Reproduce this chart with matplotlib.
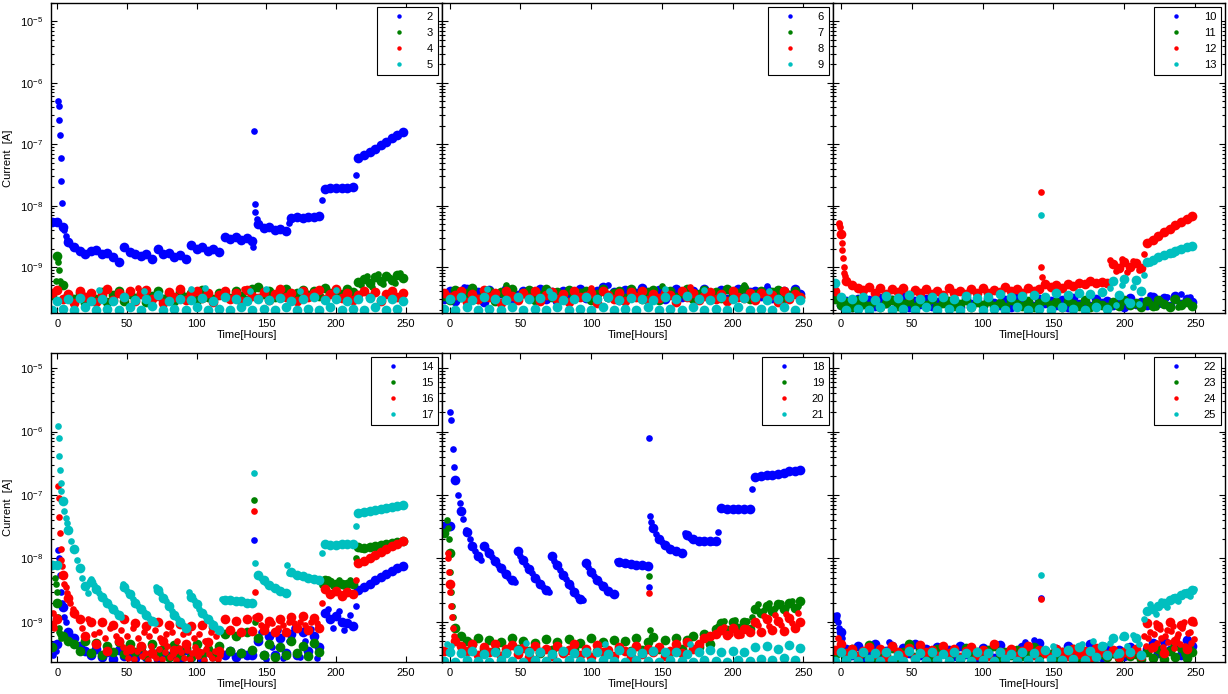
import numpy as np
import matplotlib
matplotlib.use("Agg")
import matplotlib.pyplot as plt
from matplotlib.ticker import NullFormatter, FixedLocator, LogFormatterSciNotation
from matplotlib.lines import Line2D

plt.rcParams['font.family'] = ['Liberation Sans', 'DejaVu Sans']
plt.rcParams['mathtext.fontset'] = 'custom'
plt.rcParams['mathtext.rm'] = 'Liberation Sans'
plt.rcParams['mathtext.default'] = 'regular'

# ---------------- data (current values in units of 1e-10 A) ----------------
UNIT = 1e-10
HOURS = [-4, 0, 4, 8, 12, 16, 20, 24, 28, 32, 36, 40, 44, 48, 52, 56,
         60, 64, 68, 72, 76, 80, 84, 88, 92, 96, 100, 104, 108, 112, 116, 120,
         124, 128, 132, 136, 140, 144, 148, 152, 156, 160, 164, 168, 172, 176, 180, 184,
         188, 192, 196, 200, 204, 208, 212, 216, 220, 224, 228, 232, 236, 240, 244, 248]

# ---- panel 1 ----
ch2 = [55, 55, 45, 26, 21, 18, 16, 18,
       19, 16, 17, 14.5, 12, 21, 17.5, 16.5,
       15, 16, 13.5, 20, 16.5, 17, 14.5, 15.5,
       13.5, 23, 20, 21, 18.5, 19.5, 17.5, 31,
       29, 31, 28, 30, 27, 50, 43, 44,
       40, 41, 38, 63, 65, 63, 66, 65,
       67, 190, 196, 192, 197, 194, 200, 590,
       680, 760, 850, 980, 1100, 1250, 1420, 1580]
ch2_extra = [(-2, 56), (0.5, 5000), (1, 4200), (1.5, 2500), (2, 1400), (2.5, 600), (3, 250),
             (3.5, 110), (5, 40), (6, 32), (7, 28), (10, 23), (14, 20), (140.5, 21), (141, 1650),
             (141.5, 105), (142, 80), (143, 60), (166, 52), (190, 125), (214, 320)]
ch3 = [3.5, 15, 5, 3.5, 3.0, 3.8, 2.6, 3.4,
       3.0, 3.9, 2.7, 3.5, 4.1, 2.8, 3.6, 3.1,
       3.8, 2.7, 3.4, 4.0, 3.0, 3.6, 2.8, 3.9,
       3.2, 3.7, 2.9, 4.2, 3.3, 3.0, 3.8, 3.5,
       3.1, 4.0, 3.4, 2.9, 4.3, 4.8, 3.6, 4.1,
       3.3, 3.9, 4.4, 3.0, 3.7, 4.2, 3.5, 4.0,
       3.4, 4.5, 3.8, 4.1, 3.6, 4.4, 3.9, 5.8,
       6.3, 5.5, 6.9, 5.9, 7.2, 6.1, 7.5, 6.6]
ch3_extra = [(-1, 6), (0.5, 12), (1, 9), (2, 6), (141, 4.6), (218, 5.0), (222, 7.0), (226, 4.8),
             (230, 7.6), (234, 5.2), (238, 6.8), (242, 5.4), (246, 7.9)]
ch4 = [3.8, 4.2, 3.0, 3.6, 2.6, 4.0, 3.2, 3.8,
       2.7, 3.5, 4.3, 2.9, 3.7, 3.2, 4.1, 2.8,
       3.6, 4.2, 3.0, 3.4, 2.6, 3.9, 3.3, 4.4,
       2.9, 3.6, 4.0, 3.1, 3.8, 2.7, 3.5, 4.1,
       3.0, 3.7, 2.8, 4.2, 3.4, 3.1, 3.9, 2.9,
       3.6, 4.3, 3.2, 3.8, 2.8, 4.0, 3.3, 3.7,
       4.2, 3.0, 3.6, 4.4, 3.1, 3.8, 2.9, 3.5,
       4.0, 3.2, 3.9, 2.8, 3.6, 4.1, 3.3, 3.7]
ch4_extra = [(58, 4.5), (134, 4.4), (200, 4.3)]
ch5 = [2.0, 2.8, 2.1, 3.0, 2.0, 3.1, 2.2, 2.8,
       2.0, 3.0, 2.1, 2.8, 2.0, 3.2, 2.2, 2.9,
       2.0, 3.0, 2.3, 3.5, 2.0, 2.8, 2.1, 3.0,
       2.0, 2.9, 2.2, 3.1, 2.0, 2.8, 2.1, 3.3,
       2.0, 3.0, 2.2, 2.8, 2.0, 3.0, 2.1, 2.9,
       2.0, 3.1, 2.2, 2.8, 2.0, 3.0, 2.1, 3.2,
       2.0, 2.9, 2.2, 3.0, 2.0, 2.8, 2.1, 3.0,
       2.0, 3.1, 2.2, 2.9, 2.0, 3.0, 2.1, 2.8]
ch5_extra = [(30, 4.2), (62, 4.0), (96, 4.3), (106, 4.5), (138, 4.1), (150, 4.4), (174, 4.0), (200, 4.2)]

# ---- panel 2 ----
ch6 = [3.0, 4.0, 2.8, 3.6, 4.3, 3.1, 3.9, 2.7,
       4.2, 3.3, 3.8, 4.4, 2.9, 3.5, 4.1, 3.2,
       3.7, 4.3, 3.0, 3.9, 2.8, 4.1, 3.4, 3.8,
       4.4, 3.1, 3.6, 4.0, 4.8, 3.3, 3.9, 2.9,
       4.2, 3.5, 3.8, 4.5, 3.2, 3.6, 4.2, 3.0,
       3.9, 4.3, 3.3, 3.7, 4.1, 3.1, 4.4, 3.5,
       3.8, 4.2, 3.0, 3.6, 4.3, 3.2, 3.9, 4.1,
       3.4, 4.2, 3.1, 3.8, 4.0, 3.3, 4.3, 3.6]
ch6_extra = [(10, 4.8), (112, 5.0), (224, 4.9)]
ch7 = [3.4, 2.9, 4.2, 3.2, 3.8, 4.5, 3.0, 3.6,
       4.1, 2.8, 3.9, 3.3, 4.3, 3.1, 3.7, 4.2,
       2.9, 3.5, 4.4, 3.2, 3.9, 3.0, 4.2, 3.4,
       3.8, 4.1, 2.9, 3.6, 4.3, 3.2, 3.7, 4.0,
       3.1, 4.3, 3.4, 3.0, 3.9, 4.2, 2.9, 3.5,
       4.1, 3.3, 3.8, 4.4, 3.0, 3.6, 4.2, 3.2,
       3.9, 3.1, 4.3, 3.4, 3.7, 4.5, 3.0, 3.6,
       4.1, 3.3, 3.9, 4.2, 3.1, 3.5, 4.0, 3.2]
ch7_extra = [(40, 5.0), (150, 4.9), (208, 5.1)]
ch8 = [3.8, 3.2, 3.5, 4.1, 2.7, 3.6, 3.0, 4.2,
       3.3, 3.7, 2.6, 4.0, 3.4, 2.9, 3.8, 3.1,
       4.1, 2.8, 3.5, 3.9, 3.0, 3.6, 2.7, 4.1,
       3.2, 3.4, 3.8, 2.6, 4.0, 3.5, 3.0, 3.7,
       2.8, 3.9, 3.3, 4.1, 2.9, 3.6, 3.1, 3.8,
       3.5, 2.7, 4.1, 3.2, 3.7, 2.9, 3.4, 3.9,
       3.0, 3.6, 2.8, 4.0, 3.3, 3.1, 3.7, 2.9,
       3.8, 3.2, 3.5, 2.7, 4.1, 3.0, 3.6, 3.3]
ch8_extra = [(100, 4.6), (170, 4.7)]
ch9 = [2.1, 3.0, 2.0, 3.2, 2.2, 2.9, 2.0, 3.3,
       2.1, 3.0, 2.0, 2.9, 2.2, 3.2, 2.0, 3.0,
       2.1, 3.1, 2.0, 3.4, 2.2, 2.9, 2.0, 3.0,
       2.1, 3.2, 2.0, 3.0, 2.2, 3.3, 2.0, 2.9,
       2.1, 3.1, 2.0, 3.0, 2.2, 2.9, 2.0, 3.2,
       2.1, 3.0, 2.0, 3.4, 2.2, 3.0, 2.0, 2.9,
       2.1, 3.2, 2.0, 3.0, 2.2, 3.1, 2.0, 3.3,
       2.1, 2.9, 2.0, 3.0, 2.2, 3.2, 2.0, 2.9]
ch9_extra = [(26, 4.3), (70, 4.0), (152, 4.4), (180, 4.2), (226, 4.1)]

# ---- panel 3 ----
ch10 = [3.6, 2.4, 2.8, 2.2, 3.0, 2.5, 2.9, 2.3,
        3.1, 2.6, 2.9, 2.4, 3.3, 2.2, 2.8, 2.5,
        3.0, 2.3, 2.7, 3.2, 2.4, 2.9, 2.2, 3.1,
        2.5, 2.8, 2.3, 3.0, 2.6, 2.4, 2.9, 2.2,
        3.2, 2.5, 2.7, 2.3, 3.0, 2.6, 2.8, 2.4,
        2.9, 2.2, 3.1, 2.5, 2.7, 2.3, 3.0, 2.6,
        2.8, 2.4, 2.9, 2.2, 3.1, 2.5, 2.7, 2.4,
        3.3, 2.6, 3.1, 2.3, 3.4, 2.5, 3.0, 2.7]
ch10_extra = [(-2, 3.4), (218, 3.5), (230, 3.2), (240, 3.6), (246, 3.3)]
ch11 = [3.0, 2.4, 2.7, 2.2, 2.9, 2.5, 2.3, 2.8,
        2.2, 2.6, 2.9, 2.3, 2.5, 2.8, 2.2, 2.7,
        2.4, 3.0, 2.2, 2.6, 2.8, 2.3, 2.5, 2.9,
        2.2, 2.7, 2.4, 2.8, 2.3, 2.6, 2.2, 2.9,
        2.5, 2.3, 2.8, 2.2, 2.6, 2.9, 2.4, 2.7,
        2.2, 2.8, 2.5, 2.3, 2.9, 2.2, 2.6, 2.4,
        2.2, 2.7, 2.3, 2.9, 2.4, 2.6, 2.2, 2.8,
        2.3, 2.9, 2.5, 2.2, 3.0, 2.4, 2.7, 2.3]
ch11_extra = [(190, 2.2), (218, 2.6), (222, 2.2), (226, 2.8), (230, 2.4), (234, 3.0),
              (238, 2.2), (242, 2.7), (246, 2.5)]
ch12 = [4.0, 35, 6.0, 5.0, 4.6, 4.2, 4.8, 3.8,
        4.5, 3.6, 4.3, 3.9, 4.6, 3.5, 4.2, 3.8,
        4.4, 3.6, 4.0, 3.5, 4.5, 3.7, 4.1, 3.6,
        4.4, 3.8, 4.6, 3.7, 4.2, 3.9, 4.8, 4.0,
        4.4, 3.8, 4.5, 4.0, 4.3, 5.2, 4.8, 5.0,
        4.6, 5.3, 4.9, 5.5, 5.2, 6.0, 5.4, 5.8,
        5.5, 11, 9.5, 12, 10, 11.5, 9.5, 25,
        28, 32, 37, 42, 48, 55, 61, 67]
ch12_extra = [(-1.5, 53), (-1, 50), (-0.5, 45), (0.5, 25), (1, 19), (1.5, 14), (2, 10), (2.5, 8),
              (3, 7), (141, 166), (141.5, 10), (142, 6.9), (190, 13), (194, 8.5), (198, 13.5),
              (202, 8.3), (206, 12.5), (210, 9), (214, 16), (218, 27), (222, 30), (226, 34.5),
              (230, 39.5), (234, 45), (238, 51), (242, 58), (246, 64)]
ch13 = [5.5, 3.2, 2.0, 3.0, 2.1, 3.3, 2.0, 2.9,
        2.2, 3.4, 2.0, 3.1, 2.1, 3.5, 2.0, 3.0,
        2.2, 3.3, 2.0, 3.2, 2.1, 3.0, 2.0, 3.4,
        2.2, 3.1, 2.0, 3.3, 2.1, 3.6, 2.0, 3.2,
        2.2, 3.4, 2.0, 3.5, 2.1, 3.3, 2.0, 3.7,
        2.2, 3.5, 2.1, 3.8, 2.0, 3.6, 2.2, 3.9,
        2.1, 6.0, 3.5, 6.4, 2.6, 6.2, 4.0, 12,
        13, 14.5, 15.5, 17, 18.5, 20, 21, 22]
ch13_extra = [(141, 70), (190, 4.5), (194, 2.4), (198, 5.0), (202, 2.8), (206, 4.8), (210, 2.5),
              (214, 7.5), (218, 11.5), (222, 14), (226, 15), (230, 16), (234, 16.5), (238, 19.5),
              (242, 20.5), (246, 21.5)]

# ---- panel 4 ----
ch14 = [4.0, 4.5, 17, 7, 5.5, 4.2, 3.5, 3.0,
        3.8, 2.8, 3.4, 2.6, 3.6, 2.9, 3.3, 2.7,
        3.5, 2.8, 3.2, 2.6, 3.4, 2.9, 3.1, 2.7,
        3.6, 2.8, 3.3, 2.6, 3.5, 2.9, 3.2, 3.0,
        3.5, 2.8, 3.2, 3.0, 3.0, 5.0, 3.0, 6.0,
        3.0, 5.5, 3.2, 6.5, 3.0, 7.0, 3.5, 6.0,
        4.0, 14, 11, 12.5, 10, 9.5, 8.5, 32,
        36, 40, 45, 51, 57, 64, 70, 75]
ch14_extra = [(-3, 3.0), (-2, 4.5), (-1, 3.5), (0.7, 137), (1.2, 100), (1.8, 55), (2.5, 30),
              (3.2, 20), (5, 12), (6, 10), (8.5, 6.5), (10, 6), (141, 197), (146, 7), (150, 2.6),
              (154, 4), (158, 7.5), (162, 2.7), (166, 5), (170, 8), (174, 2.8), (178, 5),
              (182, 7.7), (186, 2.7), (194, 16), (198, 8), (202, 15), (206, 7.5), (210, 13),
              (214, 17.5)]
ch15 = [4.0, 20, 6, 5, 4.5, 3.5, 5, 3.2,
        4.6, 3.0, 4.2, 3.4, 4.8, 3.1, 4.4, 3.3,
        4.0, 2.9, 4.5, 3.2, 3.8, 2.8, 4.3, 3.0,
        3.9, 2.8, 4.4, 3.1, 3.7, 2.9, 4.2, 6.5,
        3.5, 6.0, 3.2, 6.8, 3.6, 5.5, 3.0, 4.5,
        2.8, 4.0, 3.0, 5.0, 3.2, 4.2, 2.9, 4.6,
        3.3, 45, 42, 40, 40, 39, 40, 150,
        148, 150, 155, 160, 166, 172, 180, 188]
ch15_extra = [(-1.5, 50), (-1, 40), (-0.5, 30), (0.5, 12), (1, 8), (1.5, 7), (2, 6.5), (3, 5.5),
              (141, 820), (141.5, 10), (190, 38), (194, 47), (198, 37), (202, 46), (206, 37),
              (210, 45), (214, 100), (218, 140), (226, 158), (234, 150), (242, 176)]
ch16 = [9, 11, 55, 24, 14, 11, 6, 10,
        4.5, 10, 3.5, 9, 5, 11, 3.8, 9.5,
        4.2, 8.5, 3.2, 10, 5, 8.8, 3.6, 9.2,
        4.4, 8.6, 3.3, 9, 4.8, 8.2, 3.5, 11,
        7.5, 10.5, 7, 11, 7.2, 12, 7.5, 10.5,
        6.8, 11, 7, 12, 8, 12.5, 7.5, 11.5,
        8, 33, 27, 31, 26, 30, 27, 85,
        92, 100, 112, 125, 140, 155, 170, 185]
ch16_extra = [(-3, 14), (-2, 8), (-1, 12), (0.6, 1370), (1, 900), (1.5, 450), (2, 250), (2.5, 140),
              (3, 95), (3.5, 75), (5, 40), (6, 36), (7, 28), (9, 20), (11, 16), (13, 13), (18, 8),
              (22, 11), (26, 6.5), (30, 7), (34, 5.5), (38, 8), (42, 6), (46, 7.5), (50, 6),
              (54, 8), (58, 5.5), (62, 7), (66, 6), (70, 7.5), (74, 5.5), (78, 6.5), (82, 7),
              (86, 5), (90, 6.5), (94, 7), (98, 5.5), (102, 6.5), (106, 5), (110, 6.8), (114, 6),
              (141, 550), (141.5, 30), (142, 12), (146, 9), (150, 8.5), (154, 9.5), (158, 8),
              (162, 9), (166, 10), (170, 9.5), (174, 10), (178, 9), (182, 10), (186, 9.5),
              (190, 20), (194, 30), (198, 28.5), (202, 29), (206, 28), (210, 28.5), (214, 45),
              (218, 88), (226, 106), (234, 132), (242, 162),
              (47, 4.0), (49, 3.3), (51, 2.7), (53, 3.8), (55, 2.6), (57, 3.5), (59, 4.3),
              (61, 2.9), (63, 3.2), (65, 2.5), (67, 4.1), (69, 3.0), (71, 2.7), (73, 3.7),
              (75, 2.6), (77, 3.3), (79, 4.2), (81, 2.8), (83, 3.1), (85, 2.5), (87, 3.9),
              (89, 3.4), (91, 2.7), (93, 3.6), (95, 2.6), (97, 3.2), (99, 4.0), (101, 2.9),
              (103, 3.3), (105, 2.5), (107, 3.8), (109, 3.1), (111, 2.7), (113, 3.5), (115, 2.6),
              (117, 3.0)]
ch17 = [79, 78, 800, 280, 140, 70, 37, 43,
        33, 25, 20, 16, 13, 36, 27, 20,
        16, 13, 10.5, 32, 24, 18, 13, 10,
        8, 25, 19, 14, 11, 9, 7.5, 22,
        22, 21, 21, 20, 20, 55, 45, 38,
        34, 31, 28, 62, 55, 52, 50, 48,
        46, 170, 165, 165, 168, 168, 170, 520,
        540, 560, 580, 600, 620, 650, 670, 690]
ch17_extra = [(-2, 80), (0.5, 12300), (1, 8000), (1.5, 4100), (2, 2500), (2.5, 1550), (3, 1150),
              (5, 550), (6, 440), (7, 360), (10, 190), (14, 95), (18, 50), (22, 28), (24.5, 48),
              (26, 38), (30, 29), (34, 22), (38, 18), (42, 14.5), (46, 12), (47.5, 40), (50, 31),
              (54, 23), (58, 18), (62, 14.5), (66, 11.5), (70, 9.7), (71, 36), (74, 28), (78, 21),
              (82, 15), (86, 11.5), (90, 9), (94.5, 30), (98, 22), (102, 16), (106, 12.5),
              (110, 10), (114, 8), (118, 23), (122, 22.5), (126, 21.5), (130, 21), (134, 20.5),
              (138, 20), (141, 2200), (141.5, 85), (146, 50), (150, 41), (154, 36), (158, 32.5),
              (162, 29.5), (165, 79), (166, 58), (170, 57), (174, 53), (178, 51), (182, 49),
              (186, 47), (190, 120), (194, 168), (198, 164), (202, 167), (206, 166), (210, 170),
              (214, 330), (218, 530), (222, 550), (226, 570), (230, 590), (234, 610), (238, 635),
              (242, 660), (246, 680)]

# ---- panel 5 ----
ch18 = [320, 330, 1700, 560, 260, 155, 110, 155,
        120, 90, 70, 56, 46, 130, 95, 68,
        50, 40, 32, 110, 78, 55, 40, 30,
        23, 85, 62, 46, 37, 31, 27, 88,
        85, 82, 80, 78, 75, 300, 200, 160,
        140, 130, 122, 230, 200, 190, 188, 185,
        185, 620, 600, 600, 605, 600, 610, 1950,
        2000, 2050, 2100, 2180, 2250, 2350, 2420, 2500]
ch18_extra = [(-2, 325), (0.5, 20000), (1, 15000), (2, 5300), (3, 2800), (5.5, 1000), (7, 750),
              (9, 420), (11.5, 280), (14, 200), (18, 130), (22, 95), (26, 135), (30, 104),
              (34, 80), (38, 62), (42, 50), (46, 43), (50, 110), (54, 80), (58, 58), (62, 45),
              (66, 36), (70, 30), (74, 92), (78, 65), (82, 47), (86, 35), (90, 26), (94, 22),
              (98, 72), (102, 53), (106, 41), (110, 34), (114, 29), (118, 90), (122, 86),
              (126, 83), (130, 81), (134, 79), (138, 76), (140.7, 36), (141, 7900), (141.3, 460),
              (142, 380), (146, 240), (150, 180), (154, 150), (158, 135), (162, 125), (166, 250),
              (170, 210), (174, 195), (178, 189), (182, 186), (186, 184), (190, 260), (194, 610),
              (198, 600), (202, 602), (206, 603), (210, 605), (214, 1260)]
ch19 = [250, 120, 8, 6, 5, 4.4, 5.5, 3.8,
        5.2, 3.6, 4.8, 3.4, 5.5, 3.8, 5.0, 3.5,
        4.6, 3.2, 5.3, 3.6, 4.9, 3.3, 5.4, 3.7,
        4.7, 3.4, 5.6, 3.5, 4.8, 3.2, 5.2, 3.8,
        5.0, 3.5, 5.5, 3.6, 4.9, 5.8, 3.7, 5.1,
        3.4, 5.6, 3.8, 5.2, 6.0, 4.0, 6.5, 4.5,
        7.8, 9.5, 7.5, 10, 8, 9.8, 7.8, 16,
        14, 18, 15, 19, 16, 20, 16.5, 21]
ch19_extra = [(-2, 400), (-1, 300), (-0.5, 200), (0.5, 60), (1, 30), (1.5, 18), (2, 12), (3, 8),
              (141, 52), (141.5, 7.5), (190, 8.5), (194, 10.5), (198, 7.2), (202, 10.8),
              (206, 7.4), (210, 10.2), (214, 12), (218, 19), (222, 15.5), (226, 19.5),
              (230, 16.5), (234, 20), (238, 17), (242, 21), (246, 17.5)]
ch20 = [3.5, 40, 5, 4.2, 3.5, 4.5, 3.0, 4.0,
        3.3, 4.4, 2.9, 3.8, 4.3, 3.1, 3.9, 2.8,
        4.2, 3.4, 3.7, 2.9, 4.1, 3.2, 3.6, 4.4,
        3.0, 3.8, 2.8, 4.3, 3.3, 3.6, 2.9, 4.0,
        3.5, 2.8, 4.2, 3.1, 3.7, 3.3, 4.0, 2.9,
        3.5, 4.5, 3.2, 4.8, 3.8, 4.4, 5.5, 6.0,
        6.5, 7.5, 6.2, 8, 6.5, 7.8, 6.8, 10,
        7, 11, 7.5, 10.5, 7.2, 11.5, 8, 10]
ch20_extra = [(-1.5, 120), (-1, 100), (-0.5, 60), (0.5, 30), (1, 18), (1.5, 12), (2, 8), (3, 6),
              (141, 29), (190, 6.8), (194, 8.2), (198, 6.5), (202, 7.5), (206, 6.2), (210, 8.0),
              (218, 9), (222, 12.5), (226, 8.5), (230, 13), (234, 9), (238, 13.5), (242, 9.5),
              (246, 14)]
ch21 = [2.4, 3.4, 2.3, 3.2, 2.5, 3.5, 2.4, 3.1,
        2.3, 3.4, 2.5, 3.2, 2.4, 3.6, 2.3, 3.3,
        2.5, 3.4, 2.4, 3.1, 2.3, 3.5, 2.5, 3.2,
        2.4, 3.4, 2.3, 3.3, 2.5, 3.1, 2.4, 3.6,
        2.3, 3.4, 2.5, 3.2, 2.4, 3.5, 2.3, 3.3,
        2.5, 3.4, 2.4, 3.1, 2.3, 3.4, 2.5, 3.6,
        2.4, 3.3, 2.3, 3.5, 2.5, 3.4, 2.4, 4.0,
        2.6, 4.2, 2.5, 3.8, 2.7, 4.3, 2.5, 3.9]
ch21_extra = [(-2, 4.5), (1, 4.2), (54, 4.6), (110, 4.4), (170, 4.5)]

# ---- panel 6 ----
ch22 = [12, 7, 3.8, 3.0, 4.2, 2.7, 3.6, 4.4,
        2.9, 3.5, 4.1, 2.8, 3.9, 3.2, 4.5, 3.0,
        3.7, 2.6, 4.0, 3.3, 3.6, 2.9, 4.2, 3.1,
        3.5, 2.8, 3.9, 3.4, 2.7, 4.3, 3.0, 3.6,
        3.2, 4.0, 2.8, 3.7, 4.6, 3.3, 2.9, 3.8,
        3.1, 4.1, 2.7, 3.6, 3.0, 4.4, 3.4, 2.8,
        3.9, 3.2, 3.6, 2.9, 4.0, 3.3, 3.0, 3.8,
        4.6, 3.2, 5.0, 3.6, 4.4, 3.0, 5.2, 4.1]
ch22_extra = [(-3, 13), (-2, 10), (-1, 8), (1, 5.5), (141, 24), (34, 4.8), (130, 4.9), (136, 5.1)]
ch23 = [3.0, 3.4, 2.6, 3.8, 2.9, 3.2, 4.3, 2.7,
        3.5, 3.0, 3.9, 2.6, 3.3, 4.5, 2.8, 3.6,
        3.1, 2.7, 3.7, 3.2, 2.9, 3.5, 2.6, 3.9,
        3.0, 3.4, 2.8, 3.6, 4.2, 2.7, 3.3, 3.0,
        3.6, 2.9, 3.2, 4.0, 2.8, 3.5, 3.1, 2.7,
        3.4, 3.0, 3.7, 2.8, 3.3, 2.6, 3.5, 3.1,
        2.8, 3.2, 2.7, 3.4, 2.9, 3.1, 2.6, 3.3,
        2.7, 3.8, 2.6, 3.5, 2.8, 3.9, 2.7, 3.4]
ch23_extra = [(218, 4.0), (226, 3.0), (234, 4.2), (242, 3.1), (246, 4.0)]
ch24 = [3.6, 4.4, 3.2, 3.8, 2.9, 3.5, 4.0, 3.1,
        3.7, 2.8, 4.2, 3.4, 3.0, 3.9, 2.7, 4.3,
        3.3, 3.6, 2.9, 4.1, 3.2, 3.7, 2.8, 3.5,
        4.0, 3.0, 3.6, 2.9, 4.4, 3.3, 3.1, 3.8,
        2.9, 3.5, 4.2, 3.0, 3.6, 3.2, 2.8, 3.7,
        3.4, 2.9, 3.8, 3.1, 3.5, 2.7, 3.9, 3.3,
        3.0, 3.6, 2.8, 3.4, 3.1, 3.7, 2.9, 9.5,
        4.0, 8.5, 3.2, 10, 5.0, 9.0, 3.8, 10.5]
ch24_extra = [(-2, 5.5), (141, 23), (214, 6), (218, 7), (222, 9.5), (226, 5.5), (230, 7.5),
              (234, 8.5), (238, 6.5), (242, 10), (246, 7), (249, 9.5),
              (215, 4.2), (217, 5.6), (219, 3.8), (221, 6.4), (223, 4.6), (225, 7.8), (227, 4.0),
              (229, 6.0), (231, 4.8), (233, 7.2), (235, 3.9), (237, 5.8), (239, 4.4), (241, 8.0),
              (243, 4.1), (245, 6.6), (247, 4.7), (249, 5.4)]
ch25 = [2.4, 3.3, 2.5, 3.1, 2.4, 3.4, 2.6, 3.2,
        2.4, 3.4, 2.5, 3.0, 2.4, 3.5, 2.6, 3.2,
        2.4, 3.3, 2.5, 3.1, 2.4, 3.4, 2.6, 3.2,
        2.4, 3.4, 2.5, 3.2, 2.4, 3.3, 2.6, 3.1,
        2.4, 3.4, 2.5, 3.2, 2.4, 3.6, 2.6, 3.3,
        2.5, 3.6, 2.6, 4.0, 2.5, 3.5, 2.8, 4.2,
        3.0, 5.5, 3.2, 6.0, 3.4, 5.6, 3.0, 15,
        16, 18, 20, 22, 24, 26.5, 29, 32]
ch25_extra = [(141, 54), (150, 4.2), (170, 4.5), (178, 5.0), (186, 4.3), (190, 4.6), (194, 3.0),
              (198, 5.8), (202, 4.2), (206, 6.2), (210, 4.4), (214, 11), (218, 19), (222, 13.5),
              (226, 21), (230, 17), (234, 25), (238, 21), (242, 30), (246, 26), (249, 33)]

PANEL_LABELS = [['2', '3', '4', '5'], ['6', '7', '8', '9'], ['10', '11', '12', '13'],
                ['14', '15', '16', '17'], ['18', '19', '20', '21'], ['22', '23', '24', '25']]
PANEL_VALUES = [[ch2, ch3, ch4, ch5], [ch6, ch7, ch8, ch9], [ch10, ch11, ch12, ch13],
                [ch14, ch15, ch16, ch17], [ch18, ch19, ch20, ch21], [ch22, ch23, ch24, ch25]]
PANEL_EXTRAS = [[ch2_extra, ch3_extra, ch4_extra, ch5_extra],
                [ch6_extra, ch7_extra, ch8_extra, ch9_extra],
                [ch10_extra, ch11_extra, ch12_extra, ch13_extra],
                [ch14_extra, ch15_extra, ch16_extra, ch17_extra],
                [ch18_extra, ch19_extra, ch20_extra, ch21_extra],
                [ch22_extra, ch23_extra, ch24_extra, ch25_extra]]
COLORS = ['#0000FF', '#008000', '#FF0000', '#00BFBF']
XTICKS = [0, 50, 100, 150, 200, 250]
YTICKS = [1e-9, 1e-8, 1e-7, 1e-6, 1e-5]
YMINOR = [m * 10.0 ** e for e in range(-10, -4) for m in range(2, 10)]

# ---------------- figure ----------------
W, H = 1228, 694
fig = plt.figure(figsize=(W / 100, H / 100), dpi=100)

col_px = [(51, 391), (442, 391), (833, 392)]
row_px = [(3, 310), (353, 309)]
row_ylim = [(1.78e-10, 2.0e-5), (2.33e-10, 1.73e-5)]
col_xlim = [(-4.5, 276), (-5.5, 271), (-5.5, 271)]

for p in range(6):
    r, c = divmod(p, 3)
    x0, w = col_px[c]
    y0, h = row_px[r]
    ax = fig.add_axes([x0 / W, 1 - (y0 + h) / H, w / W, h / H])
    ax.set_yscale('log')
    handles = []
    for k in range(4):
        vals = PANEL_VALUES[p][k]
        extra = PANEL_EXTRAS[p][k]
        assert len(vals) == len(HOURS), (p, k, len(vals))
        g = np.array(vals, dtype=float) * UNIT
        ax.plot(HOURS, g, ls='none', marker='o', ms=7.0, mew=0, color=COLORS[k])
        xt = np.array([e[0] for e in extra], dtype=float)
        xv = np.array([e[1] for e in extra], dtype=float) * UNIT
        ax.plot(xt, xv, ls='none', marker='o', ms=4.8, mew=0, color=COLORS[k])
        handles.append(Line2D([], [], ls='none', marker='o', ms=3.2, mew=0, color=COLORS[k],
                              label=PANEL_LABELS[p][k]))
    ax.set_xlim(*col_xlim[c])
    ax.set_ylim(*row_ylim[r])
    ax.xaxis.set_major_locator(FixedLocator(XTICKS))
    ax.yaxis.set_major_locator(FixedLocator(YTICKS))
    ax.yaxis.set_major_formatter(LogFormatterSciNotation())
    ax.yaxis.set_minor_locator(FixedLocator(YMINOR))
    ax.yaxis.set_minor_formatter(NullFormatter())
    ax.tick_params(which='both', direction='in', top=True, right=True, labelsize=8, width=0.8)
    ax.tick_params(which='major', length=4)
    ax.tick_params(which='minor', length=2)
    ax.tick_params(axis='y', pad=6)
    ax.tick_params(axis='x', pad=4)
    for s in ax.spines.values():
        s.set_linewidth(1.0)
    if c != 0:
        ax.tick_params(axis='y', labelleft=False)
    else:
        ax.set_ylabel('Current  [A]', fontsize=8, labelpad=5)
    ax.set_xlabel('Time[Hours]', fontsize=8, labelpad=1)
    leg = ax.legend(handles=handles, loc='upper right', fontsize=8, frameon=True, fancybox=False,
                    edgecolor='black', framealpha=1, borderpad=0.45, labelspacing=0.55,
                    handlelength=3, handletextpad=1.0, borderaxespad=0.35, numpoints=1)
    leg.get_frame().set_linewidth(0.8)

fig.savefig('out.png', dpi=100)
